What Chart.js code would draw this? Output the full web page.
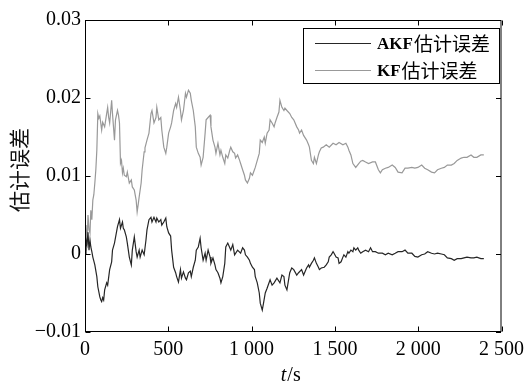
<!DOCTYPE html>
<html>
<head>
<meta charset="utf-8">
<script src="https://cdn.jsdelivr.net/npm/chart.js@4/dist/chart.umd.min.js"></script>
<style>
  html, body { margin: 0; padding: 0; background: #fff; }
  canvas { display: block; }
</style>
</head>
<body>
<canvas id="err" width="530" height="383"></canvas>
<script>
// series names and axis ticks
var seriesNames = ["AKF", "KF"];
var seriesSuffix = "估计误差";
var xTicks = [0, 500, 1000, 1500, 2000, 2500];
var yTicks = [-0.01, 0, 0.01, 0.02, 0.03];

// [t (s), error]
var akf = [[0,0],[6,0.0018],[12,0.0012],[18,0.0028],[24,0.0005],[30,0.0018],[35,0.0009],[41,0.0003],[47,-0.0004],[59,-0.0014],[71,-0.0029],[77,-0.0042],[89,-0.0055],[95,-0.0059],[100,-0.0061],[106,-0.0056],[112,-0.0059],[118,-0.0046],[130,-0.0037],[136,-0.0040],[148,-0.0020],[160,-0.0010],[165,0.0005],[177,0.0014],[189,0.0028],[195,0.0035],[207,0.0044],[213,0.0033],[225,0.0041],[230,0.0033],[236,0.0031],[248,0.0022],[254,0.0014],[266,-0.0004],[278,-0.0014],[284,0.0005],[296,0.0022],[307,0.0003],[313,-0.0004],[325,0.0005],[331,-0.0004],[343,0.0005],[355,-0.0001],[366,0.0018],[372,0.0031],[384,0.0044],[396,0.0047],[402,0.0041],[414,0.0047],[426,0.0041],[431,0.0046],[443,0.0041],[455,0.0044],[461,0.0037],[473,0.0041],[485,0.0046],[491,0.0035],[502,0.0027],[514,0.0023],[520,0.0005],[532,-0.0017],[544,-0.0024],[550,-0.0029],[561,-0.0036],[573,-0.0020],[579,-0.0031],[591,-0.0023],[603,-0.0031],[609,-0.0033],[621,-0.0024],[632,-0.0022],[638,-0.0029],[650,-0.0017],[662,-0.0008],[668,0.0005],[680,0.0009],[691,0.0020],[697,0.0008],[709,-0.0008],[721,0.0001],[727,-0.0008],[739,0.0005],[751,-0.0004],[756,-0.0012],[768,-0.0005],[780,-0.0014],[786,-0.0020],[798,-0.0024],[810,-0.0031],[816,-0.0037],[827,-0.0029],[839,-0.0012],[845,0.0009],[857,0.0014],[869,0.0008],[875,0.0005],[887,0.0012],[898,-0.0001],[916,0.0005],[934,0.0001],[946,0.0008],[957,0.0005],[963,-0.0001],[975,-0.0004],[987,-0.0008],[993,-0.0012],[1005,-0.0017],[1017,-0.0020],[1022,-0.0029],[1034,-0.0037],[1046,-0.0050],[1052,-0.0063],[1064,-0.0072],[1070,-0.0065],[1082,-0.0050],[1093,-0.0044],[1111,-0.0033],[1123,-0.0040],[1135,-0.0037],[1152,-0.0031],[1170,-0.0037],[1182,-0.0027],[1194,-0.0029],[1200,-0.0040],[1212,-0.0046],[1229,-0.0024],[1241,-0.0018],[1253,-0.0020],[1271,-0.0027],[1282,-0.0024],[1300,-0.0020],[1312,-0.0027],[1330,-0.0018],[1342,-0.0014],[1347,-0.0017],[1359,-0.0012],[1371,-0.0008],[1377,-0.0005],[1389,-0.0012],[1401,-0.0017],[1407,-0.0020],[1418,-0.0018],[1436,-0.0017],[1448,-0.0014],[1460,-0.0010],[1466,-0.0004],[1478,-0.0001],[1489,0.0003],[1495,0.0001],[1507,-0.0004],[1519,-0.0005],[1525,-0.0012],[1537,-0.0010],[1548,-0.0004],[1554,-0.0001],[1566,-0.0004],[1578,0.0003],[1584,0.0001],[1596,0.0005],[1608,0.0003],[1614,0.0008],[1625,0.0005],[1637,0.0008],[1643,0.0005],[1655,0.0001],[1667,0.0003],[1684,0.0005],[1702,0.0003],[1714,0.0008],[1726,0.0003],[1743,0.0003],[1761,0.0001],[1785,0.0001],[1803,-0.0001],[1820,0.0001],[1844,-0.0001],[1862,0.0001],[1879,0.0003],[1903,0.0003],[1921,0.0005],[1938,0.0001],[1962,0.0001],[1980,-0.0003],[1998,-0.0004],[2021,-0.0001],[2039,0],[2057,0.0003],[2080,0.0001],[2098,0],[2116,0.0001],[2139,0],[2157,-0.0001],[2175,-0.0005],[2199,-0.0006],[2216,-0.0008],[2234,-0.0006],[2258,-0.0006],[2275,-0.0005],[2293,-0.0004],[2317,-0.0005],[2334,-0.0005],[2352,-0.0004],[2376,-0.0006],[2394,-0.0006]];

var kf = [[0,0.0005],[6,0.0037],[12,0.0012],[18,0.0050],[24,0.0031],[30,0.0027],[35,0.0056],[41,0.0044],[47,0.0069],[53,0.0076],[59,0.0091],[65,0.0108],[71,0.0133],[77,0.0180],[83,0.0174],[89,0.0177],[100,0.0159],[106,0.0169],[118,0.0163],[130,0.0180],[136,0.0188],[142,0.0175],[148,0.0168],[160,0.0197],[165,0.0180],[177,0.0146],[183,0.0172],[195,0.0184],[201,0.0178],[207,0.0168],[213,0.0116],[219,0.0120],[225,0.0104],[230,0.0110],[236,0.0101],[248,0.0099],[254,0.0105],[266,0.0091],[278,0.0095],[284,0.0086],[296,0.0082],[307,0.0069],[313,0.0054],[319,0.0063],[325,0.0073],[337,0.0091],[343,0.0108],[355,0.0131],[360,0.0136],[372,0.0146],[384,0.0155],[396,0.0180],[402,0.0184],[414,0.0168],[426,0.0175],[431,0.0188],[443,0.0172],[455,0.0175],[461,0.0159],[473,0.0137],[485,0.0129],[491,0.0137],[502,0.0155],[514,0.0163],[520,0.0168],[532,0.0184],[544,0.0193],[550,0.0188],[561,0.0201],[573,0.0184],[579,0.0172],[591,0.0184],[603,0.0206],[609,0.0201],[621,0.0210],[632,0.0206],[638,0.0197],[650,0.0184],[662,0.0163],[668,0.0137],[680,0.0129],[691,0.0124],[697,0.0114],[709,0.0124],[721,0.0155],[727,0.0172],[739,0.0175],[751,0.0178],[756,0.0163],[768,0.0146],[780,0.0137],[786,0.0129],[798,0.0142],[810,0.0127],[816,0.0133],[827,0.0124],[839,0.0116],[845,0.0127],[857,0.0123],[869,0.0133],[875,0.0137],[887,0.0131],[898,0.0129],[904,0.0123],[916,0.0127],[928,0.0120],[934,0.0116],[946,0.0108],[957,0.0101],[963,0.0095],[975,0.0091],[987,0.0097],[993,0.0104],[1005,0.0101],[1017,0.0108],[1022,0.0111],[1034,0.0120],[1046,0.0129],[1052,0.0146],[1064,0.0143],[1076,0.0150],[1082,0.0142],[1093,0.0155],[1105,0.0159],[1111,0.0172],[1123,0.0168],[1135,0.0163],[1141,0.0168],[1152,0.0175],[1164,0.0182],[1170,0.0197],[1182,0.0188],[1194,0.0184],[1200,0.0187],[1212,0.0184],[1229,0.0180],[1241,0.0175],[1253,0.0172],[1271,0.0163],[1282,0.0159],[1288,0.0155],[1300,0.0159],[1312,0.0152],[1330,0.0146],[1342,0.0140],[1347,0.0137],[1359,0.0120],[1371,0.0116],[1377,0.0124],[1389,0.0116],[1401,0.0127],[1407,0.0131],[1418,0.0136],[1430,0.0137],[1448,0.0140],[1466,0.0137],[1489,0.0142],[1507,0.0140],[1525,0.0143],[1548,0.0140],[1566,0.0142],[1578,0.0137],[1584,0.0133],[1596,0.0127],[1608,0.0116],[1625,0.0111],[1643,0.0116],[1655,0.0119],[1667,0.0120],[1684,0.0118],[1702,0.0116],[1726,0.0118],[1743,0.0118],[1761,0.0108],[1773,0.0104],[1785,0.0108],[1803,0.0110],[1820,0.0111],[1844,0.0114],[1862,0.0111],[1879,0.0105],[1903,0.0104],[1921,0.0110],[1938,0.0110],[1962,0.0111],[1980,0.0110],[1998,0.0111],[2021,0.0114],[2039,0.0110],[2057,0.0108],[2080,0.0105],[2098,0.0104],[2116,0.0108],[2139,0.0110],[2157,0.0111],[2175,0.0114],[2199,0.0114],[2216,0.0116],[2234,0.0120],[2258,0.0123],[2275,0.0124],[2293,0.0124],[2317,0.0127],[2334,0.0124],[2352,0.0124],[2376,0.0127],[2394,0.0127]];

var SERIF = '"Liberation Serif", "Times New Roman", serif';
var CJK = '"Noto Sans CJK SC", sans-serif';

function toPoints(arr) {
    return arr.map(function(p) { return { x: p[0], y: p[1] }; });
}

function fmtX(v) {
    if (v >= 1000) {
        return Math.floor(v / 1000) + " " + String(v % 1000).padStart(3, "0");
    }
    return String(v);
}

function fmtY(v) {
    var r = Math.round(v * 100) / 100;
    if (r === 0) return "0";
    return r < 0 ? "\u2212" + (-r).toFixed(2) : r.toFixed(2);
}

/* matlab style box: frame, inward ticks, legend, axis titles */
var matlabBox = {
    id: "matlabBox",
    afterDraw: function(chart) {
        var ctx = chart.ctx;
        var a = chart.chartArea;
        var xs = chart.scales.x, ys = chart.scales.y;
        var L = a.left + 0.5, R = a.right - 0.5, T = a.top + 0.5, B = a.bottom - 0.5;
        var tl = 5;

        ctx.save();
        ctx.strokeStyle = "#000";
        ctx.lineWidth = 1;
        ctx.strokeRect(L, T, R - L, B - T);

        ctx.beginPath();
        xTicks.forEach(function(v) {
            var px = Math.round(xs.getPixelForValue(v)) + 0.5;
            ctx.moveTo(px, B); ctx.lineTo(px, B - tl);
            ctx.moveTo(px, T); ctx.lineTo(px, T + tl);
        });
        yTicks.forEach(function(v) {
            var py = Math.round(ys.getPixelForValue(v)) + 0.5;
            ctx.moveTo(L, py); ctx.lineTo(L + tl, py);
            ctx.moveTo(R, py); ctx.lineTo(R - tl, py);
        });
        ctx.stroke();

        // legend
        var bx = 303.5, by = 28.5, bw = 196, bh = 55;
        ctx.fillStyle = "#fff";
        ctx.fillRect(bx, by, bw, bh);
        ctx.strokeStyle = "#000";
        ctx.strokeRect(bx, by, bw, bh);
        var rows = [43.5, 70.5];
        chart.data.datasets.forEach(function(ds, i) {
            ctx.strokeStyle = ds.borderColor;
            ctx.lineWidth = 1;
            ctx.beginPath();
            ctx.moveTo(315, rows[i]);
            ctx.lineTo(371, rows[i]);
            ctx.stroke();
            ctx.fillStyle = "#000";
            ctx.textBaseline = "middle";
            ctx.textAlign = "left";
            ctx.font = "bold 17px " + SERIF;
            ctx.fillText(seriesNames[i], 377, rows[i] + 1);
            var w = ctx.measureText(seriesNames[i]).width;
            ctx.font = "19px " + CJK;
            ctx.fillText(seriesSuffix, 377 + w + 1, rows[i]);
        });

        // y title
        ctx.save();
        ctx.translate(19, (a.top + a.bottom) / 2 - 6);
        ctx.rotate(-Math.PI / 2);
        ctx.font = "21px " + CJK;
        ctx.textAlign = "center";
        ctx.textBaseline = "middle";
        ctx.fillStyle = "#111";
        ctx.fillText("估计误差", 0, 0);
        ctx.restore();

        // x title: italic t, then /s
        ctx.fillStyle = "#000";
        ctx.textBaseline = "alphabetic";
        ctx.textAlign = "left";
        ctx.font = "italic 20px " + SERIF;
        var tw = ctx.measureText("t").width;
        ctx.font = "20px " + SERIF;
        var sw = ctx.measureText("/s").width;
        var x0 = (a.left + a.right) / 2 - 3 - (tw + sw) / 2;
        ctx.font = "italic 20px " + SERIF;
        ctx.fillText("t", x0, 381);
        ctx.font = "20px " + SERIF;
        ctx.fillText("/s", x0 + tw + 1, 381);

        ctx.restore();
    }
};

var ctx = document.getElementById("err").getContext("2d");
var chart = new Chart(ctx, {
    type: "line",
    data: {
        datasets: [
            {
                label: seriesNames[0] + seriesSuffix,
                data: toPoints(akf),
                borderColor: "#262626",
                borderWidth: 1.2,
                pointRadius: 0,
                tension: 0
            },
            {
                label: seriesNames[1] + seriesSuffix,
                data: toPoints(kf),
                borderColor: "#999999",
                borderWidth: 1.2,
                pointRadius: 0,
                tension: 0
            }
        ]
    },
    options: {
        responsive: false,
        devicePixelRatio: 1,
        animation: false,
        layout: { padding: { top: 20, right: 22, left: 0, bottom: 0 } },
        plugins: {
            legend: { display: false },
            tooltip: { enabled: false }
        },
        scales: {
            x: {
                type: "linear",
                min: 0,
                max: 2500,
                grid: { display: false, drawTicks: false },
                border: { display: false },
                afterBuildTicks: function(s) { s.ticks = xTicks.map(function(v) { return { value: v }; }); },
                afterFit: function(s) { s.height = 51; },
                ticks: {
                    autoSkip: false,
                    maxRotation: 0,
                    padding: 6,
                    color: "#000",
                    font: { family: SERIF, size: 20 },
                    callback: fmtX
                }
            },
            y: {
                min: -0.01,
                max: 0.03,
                grid: { display: false, drawTicks: false },
                border: { display: false },
                afterBuildTicks: function(s) { s.ticks = yTicks.map(function(v) { return { value: v }; }); },
                afterFit: function(s) { s.width = 85; },
                ticks: {
                    padding: 4,
                    color: "#000",
                    font: { family: SERIF, size: 20 },
                    callback: fmtY
                }
            }
        }
    },
    plugins: [matlabBox]
});
</script>
</body>
</html>
